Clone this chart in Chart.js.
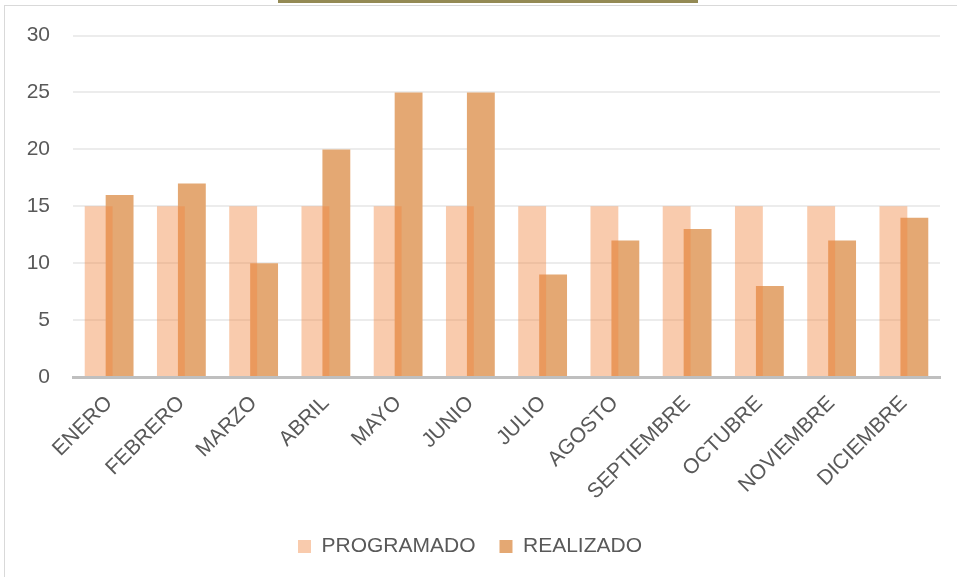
<!DOCTYPE html>
<html>
<head>
<meta charset="utf-8">
<script src="https://cdn.jsdelivr.net/npm/chart.js@4.4.1/dist/chart.umd.min.js"></script>
<style>
  html, body { margin: 0; padding: 0; background: #fff; overflow: hidden; }
  #wrap { position: relative; width: 957px; height: 577px; }
  #frame { position: absolute; left: 4px; top: 5px; right: 0; bottom: 0; border-left: 1px solid #d9d9d9; border-top: 1px solid #d9d9d9; }
  #topbar { position: absolute; left: 278px; top: 0; width: 420px; height: 3px; background: #948a54; }
  #grafico { position: absolute; left: 0; top: 0; }
</style>
</head>
<body>
<div id="wrap">
  <div id="frame"></div>
  <div id="topbar"></div>
  <canvas id="grafico" width="957" height="577"></canvas>
</div>
<script>
const meses = ["ENERO", "FEBRERO", "MARZO", "ABRIL", "MAYO", "JUNIO", "JULIO", "AGOSTO", "SEPTIEMBRE", "OCTUBRE", "NOVIEMBRE", "DICIEMBRE"]
const programado = [15, 15, 15, 15, 15, 15, 15, 15, 15, 15, 15, 15]
const realizado = [16, 17, 10, 20, 25, 25, 9, 12, 13, 8, 12, 14]
const ticksY = [0, 5, 10, 15, 20, 25, 30]

const fuente = "'Liberation Sans', sans-serif"
const gris = "#595959"
const graph = document.getElementById("grafico")

// programado va encima (semi transparente), realizado debajo
const renderGraph = new Chart(graph, {
  type: "bar",
  data: {
    labels: meses,
    datasets: [
      {
        label: "PROGRAMADO",
        data: programado,
        backgroundColor: "rgba(240,135,65,0.43)"
      },
      {
        label: "REALIZADO",
        data: realizado,
        backgroundColor: "rgb(228,168,115)"
      }
    ]
  },
  options: {
    responsive: false,
    animation: false,
    categoryPercentage: 0.58,
    barPercentage: 1.33,
    layout: { padding: { top: 32, right: 17, bottom: 10, left: 0 } },
    plugins: {
      tooltip: { enabled: false },
      legend: {
        position: "bottom",
        labels: {
          color: gris,
          font: { family: fuente, size: 21 },
          boxWidth: 13,
          boxHeight: 13,
          padding: 24
        }
      }
    },
    scales: {
      x: {
        z: 1,
        grid: { display: false, drawTicks: false },
        border: { color: "#bfbfbf", width: 3 },
        ticks: {
          color: gris,
          font: { family: fuente, size: 21 },
          minRotation: 45,
          maxRotation: 45,
          padding: 14
        },
        afterFit: (scale) => { scale.height = 135 }
      },
      y: {
        min: 0,
        max: 30,
        afterBuildTicks: (scale) => { scale.ticks = ticksY.map((v) => ({ value: v })) },
        grid: { color: "#ececec", lineWidth: 2, drawTicks: false },
        border: { display: false },
        ticks: {
          color: gris,
          font: { family: fuente, size: 21 },
          padding: 23
        },
        afterFit: (scale) => { scale.width = 73 }
      }
    }
  }
})
</script>
</body>
</html>
